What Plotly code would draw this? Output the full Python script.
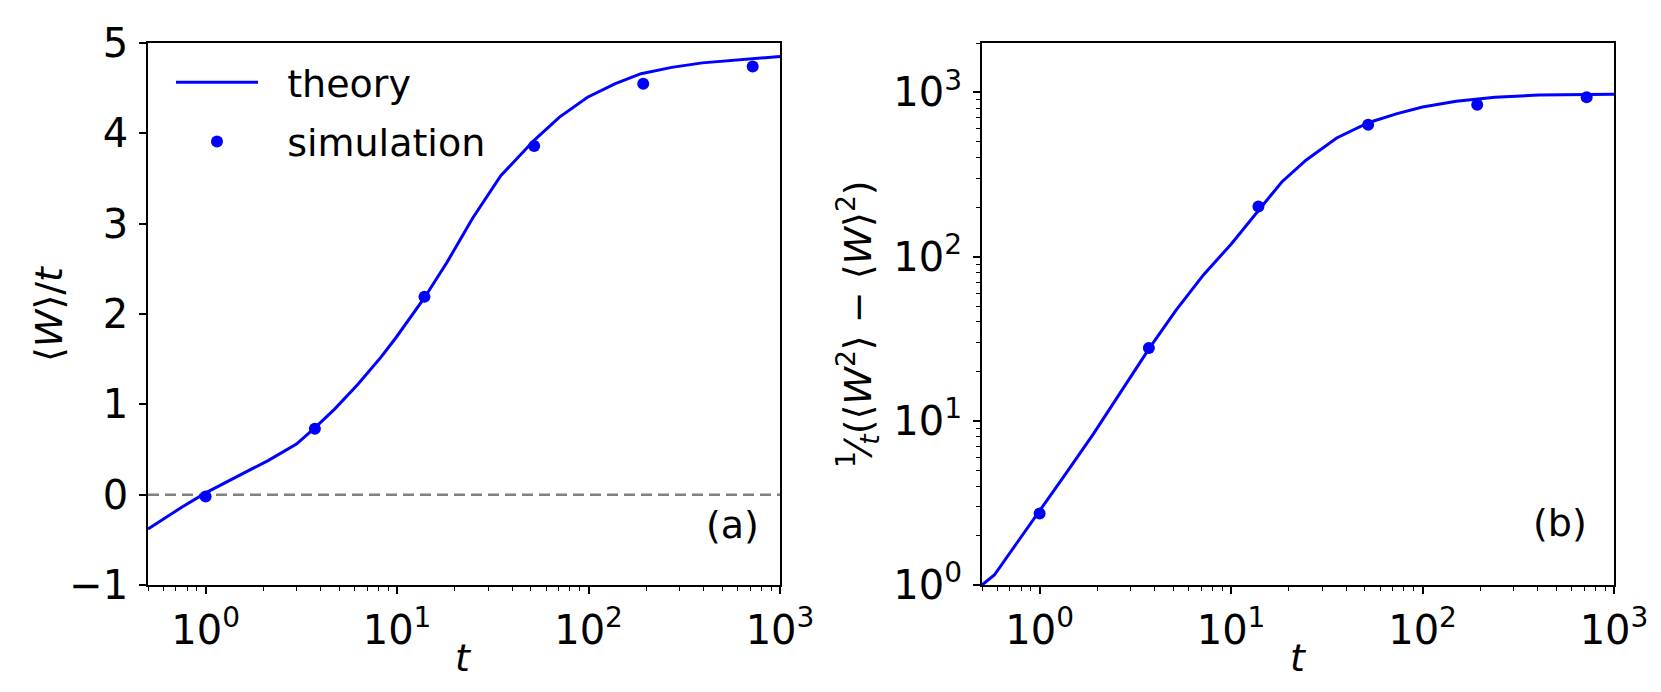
import math
import plotly.graph_objects as go

# ---------------- data ----------------
# panel (a): <W>/t
theory_t_a = [0.5, 0.75, 1.0, 1.47, 2.13, 2.98, 3.72, 4.73, 6.23, 8.22, 9.88, 13.9, 18.2,
              24.8, 34.8, 51.8, 70.5, 98.8, 138, 188, 272, 393, 569, 1000]
theory_y_a = [-0.38, -0.14, 0.02, 0.20, 0.38, 0.56, 0.74, 0.95, 1.22, 1.52, 1.74, 2.18, 2.57,
              3.06, 3.53, 3.92, 4.18, 4.40, 4.55, 4.66, 4.73, 4.78, 4.81, 4.85]
sim_t = [1.0, 3.72, 13.9, 52.0, 193, 720]
sim_y_a = [-0.02, 0.73, 2.19, 3.86, 4.55, 4.74]

# panel (b): variance / t
theory_t_b = [0.5, 0.58, 0.78, 1.0, 1.37, 1.91, 2.66, 3.73, 5.15, 7.17, 10.0, 14.1, 18.4,
              24.7, 35.6, 52.5, 73.7, 100, 150, 239, 404, 1000]
theory_y_b = [1.0, 1.15, 1.88, 2.81, 4.76, 8.32, 15.0, 27.5, 47.1, 77.4, 119, 196, 285,
              388, 528, 656, 743, 815, 884, 934, 963, 975]
sim_y_b = [2.73, 27.8, 202, 636, 840, 934]

# ticks
x_tickvals = [1, 10, 100, 1000]
x_ticktext = ["10<sup>0</sup>", "10<sup>1</sup>", "10<sup>2</sup>", "10<sup>3</sup>"]
x_minor = [0.5, 0.6, 0.7, 0.8, 0.9] + [m * 10 ** k for k in range(0, 3) for m in range(2, 10)]
ya_tickvals = [-1, 0, 1, 2, 3, 4, 5]
yb_tickvals = [1, 10, 100, 1000]
yb_ticktext = ["10<sup>0</sup>", "10<sup>1</sup>", "10<sup>2</sup>", "10<sup>3</sup>"]
yb_minor = [m * 10 ** k for k in range(0, 3) for m in range(2, 10)] + [2000]

BLUE = "#0000ff"
FONT = "DejaVu Sans"
FS = 38
TFS = 40

W, H = 1661, 692
xa_dom = [140 / W, 772 / W]
xb_dom = [974 / W, 1606 / W]
y_dom = [1 - 577 / H, 1 - 35 / H]

fig = go.Figure()

fig.add_trace(go.Scatter(x=theory_t_a, y=theory_y_a, mode="lines", name="\u00a0\u00a0theory",
                         legendgroup="a", line=dict(color=BLUE, width=3), xaxis="x", yaxis="y"))
fig.add_trace(go.Scatter(x=sim_t, y=sim_y_a, mode="markers", name="\u00a0\u00a0simulation",
                         legendgroup="b", marker=dict(color=BLUE, size=12), xaxis="x", yaxis="y"))
fig.add_trace(go.Scatter(x=theory_t_b, y=theory_y_b, mode="lines", showlegend=False,
                         line=dict(color=BLUE, width=3), xaxis="x2", yaxis="y2"))
fig.add_trace(go.Scatter(x=sim_t, y=sim_y_b, mode="markers", showlegend=False,
                         marker=dict(color=BLUE, size=12), xaxis="x2", yaxis="y2"))

axis_common = dict(showline=True, linecolor="black", linewidth=1.8, mirror=True,
                   ticks="outside", ticklen=7, tickwidth=1.8, tickcolor="black",
                   showgrid=False, zeroline=False, automargin=False,
                   tickfont=dict(family=FONT, size=TFS, color="black"))

minor_common = dict(ticks="outside", ticklen=4, tickwidth=1.2, tickcolor="black", showgrid=False)

xrange = [math.log10(0.5), 3]

fig.update_layout(
    width=W, height=H,
    margin=dict(l=0, r=0, t=0, b=0),
    paper_bgcolor="white", plot_bgcolor="white",
    font=dict(family=FONT, size=FS, color="black"),
    xaxis=dict(domain=xa_dom, type="log", range=xrange, anchor="y", ticklabelstandoff=2,
               tickmode="array", tickvals=x_tickvals, ticktext=x_ticktext,
               minor=dict(tickmode="array", tickvals=x_minor, **minor_common), **axis_common),
    yaxis=dict(domain=y_dom, range=[-1, 5], anchor="x", ticklabelstandoff=3,
               tickmode="array", tickvals=ya_tickvals, **axis_common),
    xaxis2=dict(domain=xb_dom, type="log", range=xrange, anchor="y2", ticklabelstandoff=2,
                tickmode="array", tickvals=x_tickvals, ticktext=x_ticktext,
                minor=dict(tickmode="array", tickvals=x_minor, **minor_common), **axis_common),
    yaxis2=dict(domain=y_dom, type="log", range=[0, math.log10(2000)], anchor="x2", ticklabelstandoff=3,
                tickmode="array", tickvals=yb_tickvals, ticktext=yb_ticktext,
                minor=dict(tickmode="array", tickvals=yb_minor, **minor_common), **axis_common),
    legend=dict(x=163 / W, y=1 - 43 / H, xanchor="left", yanchor="top",
                bgcolor="rgba(0,0,0,0)", font=dict(family=FONT, size=38, color="black"),
                itemwidth=82, tracegroupgap=7, traceorder="grouped"),
    showlegend=True,
)

# zero reference line in panel (a)
fig.add_shape(type="line", xref="x domain", x0=0, x1=1, yref="y", y0=0, y1=0,
              line=dict(color="#808080", width=2.5, dash="11px,6px"), layer="below")

ann = []
# axis titles
ann.append(dict(text="<i>t</i>", x=(xa_dom[0] + xa_dom[1]) / 2, y=1 - 650 / H, xref="paper", yref="paper",
                showarrow=False, font=dict(family=FONT, size=FS, color="black"), xanchor="center", yanchor="middle"))
ann.append(dict(text="<i>t</i>", x=(xb_dom[0] + xb_dom[1]) / 2, y=1 - 650 / H, xref="paper", yref="paper",
                showarrow=False, font=dict(family=FONT, size=FS, color="black"), xanchor="center", yanchor="middle"))
ann.append(dict(text="⟨<i>W</i>⟩/<i>t</i>", x=41 / W, y=1 - 306 / H, xref="paper", yref="paper",
                textangle=-90, showarrow=False, font=dict(family=FONT, size=FS, color="black"),
                xanchor="center", yanchor="middle"))
ann.append(dict(text="<sup>1</sup>⁄<sub><i>t</i></sub>(⟨<i>W</i><sup>2</sup>⟩ − ⟨<i>W</i>⟩<sup>2</sup>)",
                x=850 / W, y=1 - 316 / H, xref="paper", yref="paper",
                textangle=-90, showarrow=False, font=dict(family=FONT, size=FS, color="black"),
                xanchor="center", yanchor="middle"))
# panel labels
ann.append(dict(text="(a)", x=0.925, y=0.11, xref="x domain", yref="y domain", showarrow=False,
                font=dict(family=FONT, size=FS, color="black"), xanchor="center", yanchor="middle"))
ann.append(dict(text="(b)", x=0.915, y=0.115, xref="x2 domain", yref="y2 domain", showarrow=False,
                font=dict(family=FONT, size=FS, color="black"), xanchor="center", yanchor="middle"))
fig.update_layout(annotations=ann)

fig.write_html("out.html")
